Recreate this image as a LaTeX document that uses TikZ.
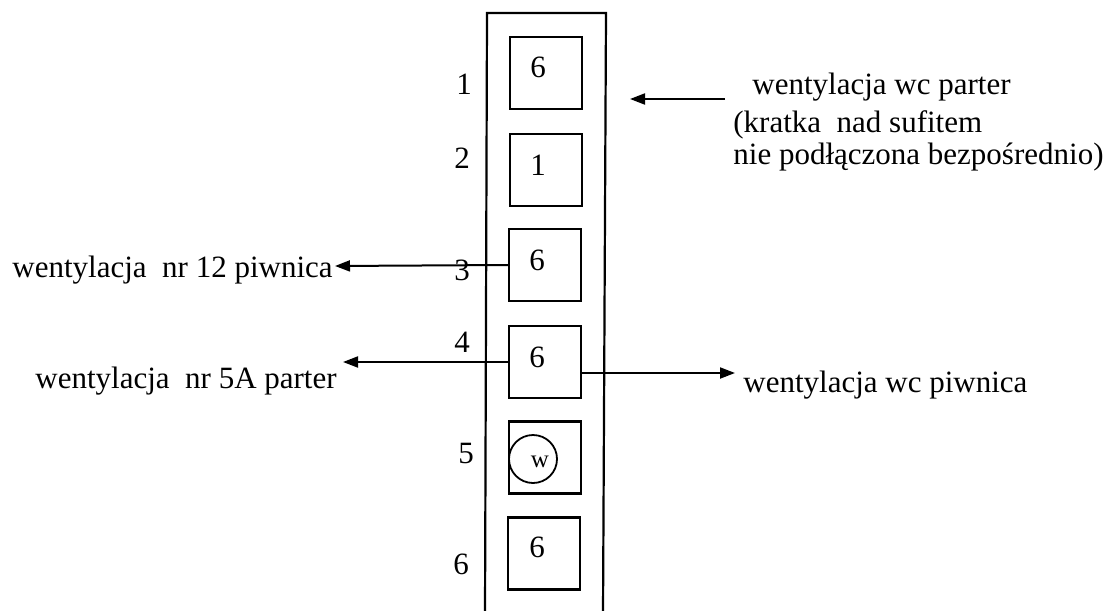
\documentclass[tikz,border=0pt]{standalone}
\usepackage{fontspec}
\setmainfont{Liberation Serif}
\usetikzlibrary{arrows.meta}
\begin{document}
\begin{tikzpicture}[x=0.5pt,y=-0.5pt,
  every node/.style={font=\fontsize{15.5pt}{18pt}\selectfont, inner sep=0pt},
  flue/.style={draw, line width=1.1pt, minimum width=36pt, minimum height=36pt},
  txt/.style={anchor=base west},
  num/.style={anchor=base},
  arr/.style={line width=1pt, -{Triangle[length=7.5pt,width=5.5pt]}},
  wall/.style={line width=1.1pt}]
\useasboundingbox (0,0) rectangle (1112,610);
% outer column
\draw[wall] (485,614) -- (487,13) -- (606,13) -- (603,614);
% flues
\node[flue] (b1) at (546,73) {};
\node[flue] (b2) at (546,170) {};
\node[flue] (b3) at (545,265) {};
\node[flue] (b4) at (545,362) {};
\node[flue] (b5) at (545,457.5) {};
\node[flue] (b6) at (544,553.5) {};
\node[draw, circle, line width=0.9pt, minimum size=24pt] (c5) at (533,459) {};
% digits in flues
\node[num] (d1) at (538,78) {6};
\node[num] (d2) at (538,175) {1};
\node[num] (d3) at (537,270) {6};
\node[num] (d4) at (537,367) {6};
\node[num, font=\fontsize{12.5pt}{14pt}\selectfont] (d5) at (540,467) {w};
\node[num] (d6) at (537,557) {6};
% row numbers
\node[num] (n1) at (464,95) {1};
\node[num] (n2) at (462,168) {2};
\node[num] (n3) at (462,280) {3};
\node[num] (n4) at (462,352) {4};
\node[num] (n5) at (466,463) {5};
\node[num] (n6) at (461,574) {6};
% texts
\node[txt] (t12) at (12,277) {wentylacja\ \ nr 12 piwnica};
\node[txt] (t5a) at (35,388) {wentylacja\ \ nr 5A parter};
\node[txt] (twc) at (743,392) {wentylacja wc piwnica};
\node[txt] (tp1) at (752,95) {wentylacja wc parter};
\node[txt] (tp2) at (733,133) {(kratka\ \ nad sufitem};
\node[txt] (tp3) at (733,164) {nie podłączona bezpośrednio)};
% connectors
\coordinate (a3) at (335,266);
\coordinate (a4) at (343,362);
\coordinate (r4s) at (581,373);
\coordinate (r4e) at (735,373);
\coordinate (ptail) at (725,99);
\coordinate (ptip) at (630,99);
\draw[arr] (b3.west) -- (a3);
\draw[arr] (b4.west) -- (a4);
\draw[arr] (r4s) -- (r4e);
\draw[arr] (ptail) -- (ptip);
\end{tikzpicture}
\end{document}
